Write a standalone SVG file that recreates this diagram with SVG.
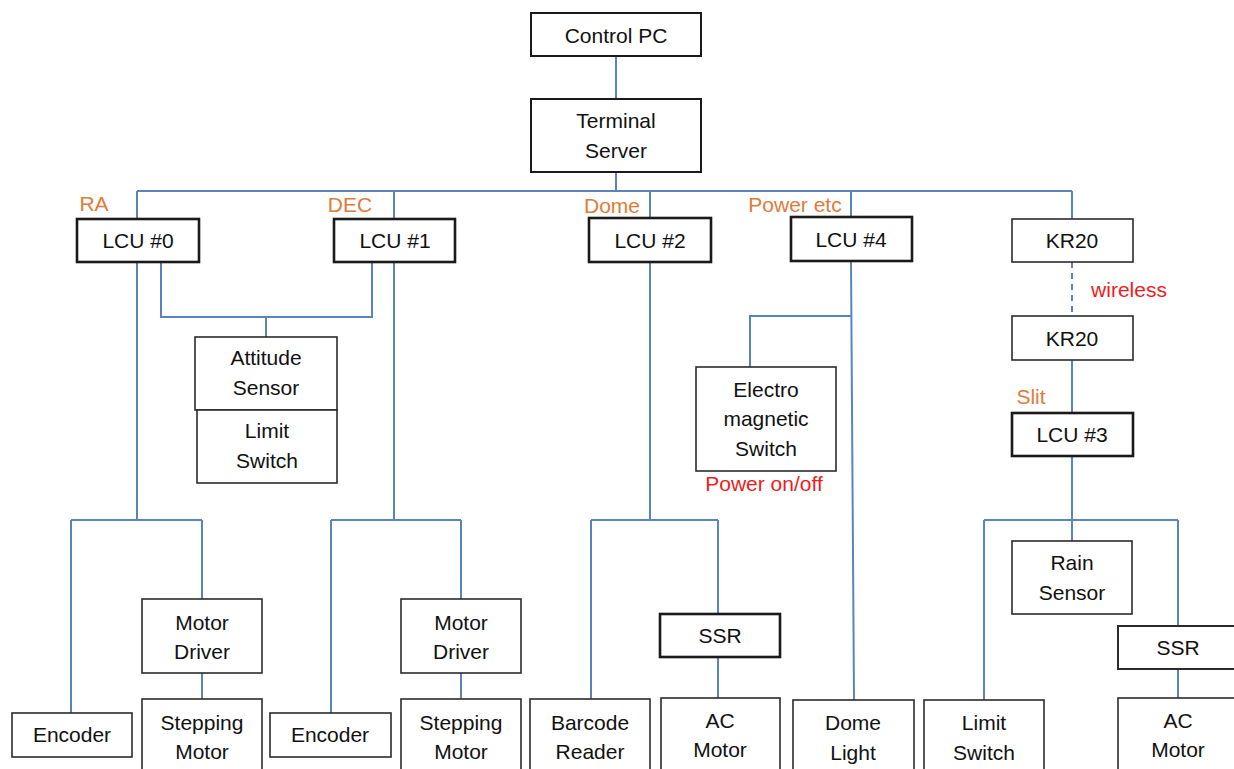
<svg xmlns="http://www.w3.org/2000/svg" width="1234" height="769" viewBox="0 0 1234 769">
<style>
.box{fill:#fff;stroke:#2b2b2b;stroke-width:1.6}
.thick{fill:#fff;stroke:#1a1a1a;stroke-width:2.6}
.t{font-family:"Liberation Sans",Arial,sans-serif;font-size:21px;fill:#111;text-anchor:middle}
.o{font-family:"Liberation Sans",Arial,sans-serif;font-size:21px;fill:#E07B39;text-anchor:middle}
.r{font-family:"Liberation Sans",Arial,sans-serif;font-size:21px;fill:#EE1C1C;text-anchor:middle}
.c{fill:none;stroke:#5B84BD;stroke-width:2}
</style>
<rect width="1234" height="769" fill="#fff"/>
<g id="connectors" class="c">
<path d="M616 56V99M616 172V191M137 191H1072"/>
<path d="M137 191V219M394 191V219M650 191V218M851 191V217M1072 191V219"/>
<path d="M137 262V520M161 262V317H372V262M266 317V337"/>
<path d="M394 262V520"/>
<path d="M650 262V520"/>
<path d="M851 261L854 700M851 316H750V367"/>
<path d="M1072 262V316" stroke-dasharray="6,5"/>
<path d="M1072 360V413M1072 456V541"/>
<path d="M71 520H202M71 520V713M202 520V599M202 673V699"/>
<path d="M331 520H461M331 520V713M461 520V599M461 673V699"/>
<path d="M591 520H718M591 520V699M718 520V614M718 657V698"/>
<path d="M984 520H1178M984 520V700M1178 520V626M1178 669V698"/>
</g>
<g id="control-pc"><rect class="thick" x="531" y="13" width="170" height="43" style="stroke-width:2"/><text class="t" x="616" y="43">Control PC</text></g>
<g id="terminal-server"><rect class="thick" x="531" y="99" width="170" height="73" style="stroke-width:2"/><text class="t" x="616" y="128">Terminal</text><text class="t" x="616" y="158">Server</text></g>
<g id="lcu0"><rect class="thick" x="77" y="219" width="122" height="43"/><text class="t" x="138" y="248">LCU #0</text><text class="o" x="94" y="211">RA</text></g>
<g id="lcu1"><rect class="thick" x="334" y="219" width="121" height="43"/><text class="t" x="395" y="248">LCU #1</text><text class="o" x="350" y="212">DEC</text></g>
<g id="lcu2"><rect class="thick" x="589" y="218" width="122" height="44"/><text class="t" x="650" y="248">LCU #2</text><text class="o" x="612" y="213">Dome</text></g>
<g id="lcu4"><rect class="thick" x="791" y="217" width="121" height="44"/><text class="t" x="851" y="247">LCU #4</text><text class="o" x="795" y="212">Power etc</text></g>
<g id="kr20-top"><rect class="box" x="1012" y="219" width="121" height="43"/><text class="t" x="1072" y="248">KR20</text></g>
<g id="wireless-label"><text class="r" x="1129" y="297">wireless</text></g>
<g id="kr20-bottom"><rect class="box" x="1012" y="316" width="121" height="44"/><text class="t" x="1072" y="346">KR20</text></g>
<g id="lcu3"><rect class="thick" x="1012" y="413" width="121" height="43"/><text class="t" x="1072" y="442">LCU #3</text><text class="o" x="1031" y="404">Slit</text></g>
<g id="attitude-sensor"><rect class="box" x="195" y="337" width="142" height="73"/><text class="t" x="266" y="365">Attitude</text><text class="t" x="266" y="395">Sensor</text></g>
<g id="limit-switch-1"><rect class="box" x="197" y="410" width="140" height="73"/><text class="t" x="267" y="438">Limit</text><text class="t" x="267" y="468">Switch</text></g>
<g id="electro-switch"><rect class="box" x="696" y="367" width="140" height="104"/><text class="t" x="766" y="397">Electro</text><text class="t" x="766" y="426">magnetic</text><text class="t" x="766" y="456">Switch</text><text class="r" x="764" y="491">Power on/off</text></g>
<g id="encoder-0"><rect class="box" x="12" y="713" width="120" height="44"/><text class="t" x="72" y="742">Encoder</text></g>
<g id="motor-driver-0"><rect class="box" x="142" y="599" width="120" height="74"/><text class="t" x="202" y="630">Motor</text><text class="t" x="202" y="659">Driver</text></g>
<g id="stepping-motor-0"><rect class="box" x="142" y="699" width="120" height="100"/><text class="t" x="202" y="730">Stepping</text><text class="t" x="202" y="759">Motor</text></g>
<g id="encoder-1"><rect class="box" x="270" y="713" width="121" height="44"/><text class="t" x="330" y="742">Encoder</text></g>
<g id="motor-driver-1"><rect class="box" x="401" y="599" width="120" height="74"/><text class="t" x="461" y="630">Motor</text><text class="t" x="461" y="659">Driver</text></g>
<g id="stepping-motor-1"><rect class="box" x="401" y="699" width="120" height="100"/><text class="t" x="461" y="730">Stepping</text><text class="t" x="461" y="759">Motor</text></g>
<g id="barcode-reader"><rect class="box" x="530" y="699" width="120" height="100"/><text class="t" x="590" y="730">Barcode</text><text class="t" x="590" y="759">Reader</text></g>
<g id="ssr-dome"><rect class="thick" x="660" y="614" width="120" height="43"/><text class="t" x="720" y="643">SSR</text></g>
<g id="ac-motor-dome"><rect class="box" x="661" y="698" width="119" height="100"/><text class="t" x="720" y="728">AC</text><text class="t" x="720" y="757">Motor</text></g>
<g id="dome-light"><rect class="box" x="793" y="700" width="121" height="100"/><text class="t" x="853" y="730">Dome</text><text class="t" x="853" y="760">Light</text></g>
<g id="limit-switch-2"><rect class="box" x="924" y="700" width="120" height="100"/><text class="t" x="984" y="730">Limit</text><text class="t" x="984" y="760">Switch</text></g>
<g id="rain-sensor"><rect class="box" x="1012" y="541" width="120" height="73"/><text class="t" x="1072" y="570">Rain</text><text class="t" x="1072" y="600">Sensor</text></g>
<g id="ssr-slit"><rect class="box" x="1118" y="626" width="122" height="43" style="stroke-width:2"/><text class="t" x="1178" y="655">SSR</text></g>
<g id="ac-motor-slit"><rect class="box" x="1118" y="698" width="122" height="100"/><text class="t" x="1178" y="728">AC</text><text class="t" x="1178" y="757">Motor</text></g>
</svg>
